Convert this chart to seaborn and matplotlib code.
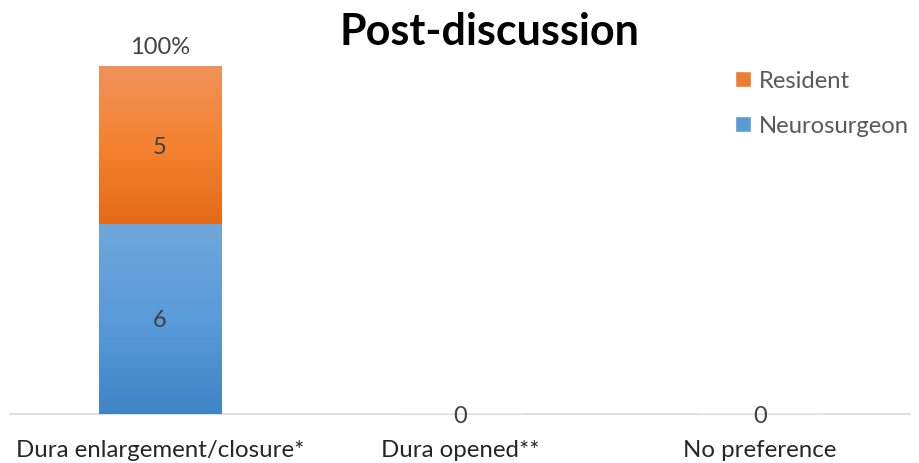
import matplotlib
matplotlib.use("Agg")
import matplotlib.pyplot as plt
import seaborn as sns
import numpy as np
import pandas as pd
from matplotlib.colors import LinearSegmentedColormap
from matplotlib.patches import Patch

categories = ["Dura enlargement/closure*", "Dura opened**", "No preference"]
neurosurgeon = [6, 0, 0]
resident = [5, 0, 0]
top_labels = ["100%", "0", "0"]
title = "Post-discussion"

sns.set_theme(style="white")
plt.rcParams['font.family'] = ['Lato', 'DejaVu Sans']

df = pd.DataFrame({"category": categories,
                   "Neurosurgeon": neurosurgeon,
                   "Resident": resident})
df["Total"] = df["Neurosurgeon"] + df["Resident"]

fig = plt.figure(figsize=(9.2, 4.63), dpi=100)
ax = fig.add_axes([10/920, 49/463, 900/920, 380/463])

sns.barplot(data=df, x="category", y="Total", color="#ED7D31", width=0.41,
            ax=ax, saturation=1, zorder=2)
sns.barplot(data=df, x="category", y="Neurosurgeon", color="#5B9BD5", width=0.41,
            ax=ax, saturation=1, zorder=3)

orange_cmap = LinearSegmentedColormap.from_list("o", ["#E36A17", "#F48331", "#F0925C"])
blue_cmap = LinearSegmentedColormap.from_list("b", ["#3F84C6", "#5A9BDA", "#70A6DB"])
grad = np.linspace(0, 1, 256).reshape(-1, 1)

n = len(categories)
orange_patches = ax.patches[:n]
blue_patches = ax.patches[n:2*n]
for i in range(n):
    for p, cmap, lo in ((orange_patches[i], orange_cmap, neurosurgeon[i]),
                        (blue_patches[i], blue_cmap, 0)):
        h = p.get_height()
        if h <= 0:
            continue
        x0 = p.get_x()
        x1 = x0 + p.get_width()
        y0 = lo
        y1 = p.get_y() + h
        im = ax.imshow(grad, extent=[x0, x1, y0, y1], origin="lower",
                       aspect="auto", cmap=cmap, zorder=p.get_zorder() + 0.5)
        p.set_edgecolor("none")
        im.set_clip_path(p)

# segment labels
lab_fs = 17
for i in range(n):
    if neurosurgeon[i] > 0:
        ax.text(i, neurosurgeon[i] / 2 - 0.05, str(neurosurgeon[i]), ha="center", va="center",
                fontsize=lab_fs, color="#404040", zorder=10)
    if resident[i] > 0:
        ax.text(i, neurosurgeon[i] + resident[i] / 2 - 0.1, str(resident[i]), ha="center",
                va="center", fontsize=lab_fs, color="#404040", zorder=10)
    tot = neurosurgeon[i] + resident[i]
    if tot > 0:
        ax.text(i, tot + 0.25, top_labels[i], ha="center", va="bottom",
                fontsize=lab_fs, color="#404040", zorder=10)
    else:
        ax.text(i, -0.08, top_labels[i], ha="center", va="center",
                fontsize=lab_fs, color="#404040", zorder=10)

ax.set_xlim(-0.5, n - 0.5)
ax.set_ylim(0, 12)
ax.set_xlabel("")
ax.set_ylabel("")
ax.set_yticks([])
ax.tick_params(axis="x", length=0, labelsize=17.3, labelcolor="#262626", pad=19)
for s in ["top", "right", "left"]:
    ax.spines[s].set_visible(False)
ax.spines["bottom"].set_color("#D9D9D9")
ax.spines["bottom"].set_linewidth(1.2)
ax.spines["bottom"].set_zorder(1)

fig.text(0.532, 0.93, title, ha="center", va="center", fontsize=31,
         fontweight="bold", color="#000000")

handles = [Patch(facecolor="#ED7D31", label="Resident"),
           Patch(facecolor="#5B9BD5", label="Neurosurgeon")]
leg = ax.legend(handles=handles, loc="upper left", bbox_to_anchor=(0.782, 0.96),
                frameon=False, fontsize=17.2, handlelength=0.65, handleheight=0.65,
                handletextpad=0.35, labelspacing=1.0, labelcolor="#595959")

fig.savefig("out.png", dpi=100, facecolor="white")
